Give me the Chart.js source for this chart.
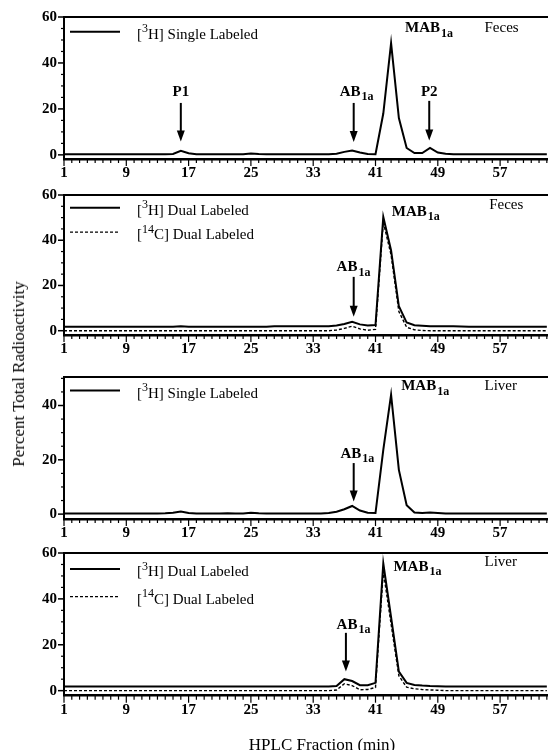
<!DOCTYPE html>
<html>
<head>
<meta charset="utf-8">
<script src="https://cdn.jsdelivr.net/npm/chart.js@4.4.1/dist/chart.umd.min.js"></script>
<style>
  html, body { margin: 0; padding: 0; background: #fff; }
  #wrap { position: relative; width: 548px; height: 750px; overflow: hidden; }
  #wrap canvas { position: absolute; left: 0; }
  .axis-title { position: absolute; font-family: "Liberation Serif", serif; font-size: 17px; color: #000; white-space: nowrap; }
  #ytitle { left: 19px; top: 374px; transform: translate(-50%, -50%) rotate(-90deg); }
  #xtitle { left: 322px; top: 745px; transform: translate(-50%, -50%); }
</style>
</head>
<body>
<div id="wrap">
  <canvas id="c1" width="548" height="180" style="top:0px"></canvas>
  <canvas id="c2" width="548" height="180" style="top:180px"></canvas>
  <canvas id="c3" width="548" height="180" style="top:360px"></canvas>
  <canvas id="c4" width="548" height="210" style="top:540px"></canvas>
  <div class="axis-title" id="ytitle">Percent Total Radioactivity</div>
  <div class="axis-title" id="xtitle">HPLC Fraction (min)</div>
</div>
<script>
// HPLC fractions (x)
const fractions = [
  1, 2, 3, 4, 5, 6, 7, 8, 9, 10, 11, 12, 13, 14, 15, 16, 17, 18, 19, 20,
  21, 22, 23, 24, 25, 26, 27, 28, 29, 30, 31, 32, 33, 34, 35, 36, 37, 38, 39, 40,
  41, 42, 43, 44, 45, 46, 47, 48, 49, 50, 51, 52, 53, 54, 55, 56, 57, 58, 59, 60,
  61, 62, 63
];
const xTickLabels = [1, 9, 17, 25, 33, 41, 49, 57];
const yTickStops = [0, 5, 10, 15, 20, 25, 30, 35, 40, 45, 50, 55, 60];
const yTickLabels = [0, 20, 40, 60];

// Feces, [3H] single labeled
const feces3HSingle = [
  0.3, 0.3, 0.3, 0.3, 0.3, 0.3, 0.3, 0.3, 0.3, 0.3,
  0.3, 0.3, 0.3, 0.3, 0.4, 1.8, 0.7, 0.3, 0.3, 0.3,
  0.3, 0.3, 0.3, 0.3, 0.6, 0.4, 0.3, 0.3, 0.3, 0.3,
  0.3, 0.3, 0.3, 0.3, 0.3, 0.5, 1.3, 1.9, 1.0, 0.4,
  0.3, 18, 48.6, 16, 3.0, 0.8, 0.8, 3.0, 1.0, 0.5,
  0.3, 0.3, 0.3, 0.3, 0.3, 0.3, 0.3, 0.3, 0.3, 0.3,
  0.3, 0.3, 0.3
];
// Feces, dual labeled
const feces3HDual = [
  1.8, 1.8, 1.8, 1.8, 1.8, 1.8, 1.8, 1.8, 1.8, 1.8,
  1.8, 1.8, 1.8, 1.8, 1.8, 2.0, 1.8, 1.8, 1.8, 1.8,
  1.8, 1.8, 1.8, 1.8, 1.8, 1.8, 1.8, 2.0, 2.0, 2.0,
  2.0, 2.0, 2.0, 2.0, 2.0, 2.3, 3.0, 3.9, 2.8, 2.3,
  2.5, 50.3, 35.5, 10.8, 3.6, 2.4, 2.2, 2.0, 2.0, 2.0,
  2.0, 1.9, 1.8, 1.8, 1.8, 1.8, 1.8, 1.8, 1.8, 1.8,
  1.8, 1.8, 1.8
];
const feces14CDual = [
  0, 0, 0, 0, 0, 0, 0, 0, 0, 0,
  0, 0, 0, 0, 0, 0, 0, 0, 0, 0,
  0, 0, 0, 0, 0, 0, 0, 0, 0, 0,
  0, 0, 0, 0, 0, 0.3, 1.0, 2.0, 0.8, 0.2,
  0.6, 48, 33.5, 8.5, 1.5, 0.4, 0.1, 0, 0, 0,
  0, 0, 0, 0, 0, 0, 0, 0, 0, 0,
  0, 0, 0
];
// Liver, [3H] single labeled
const liver3HSingle = [
  0.2, 0.2, 0.2, 0.2, 0.2, 0.2, 0.2, 0.2, 0.2, 0.2,
  0.2, 0.2, 0.2, 0.3, 0.5, 1.0, 0.4, 0.2, 0.2, 0.2,
  0.2, 0.3, 0.2, 0.2, 0.5, 0.3, 0.2, 0.2, 0.2, 0.2,
  0.2, 0.2, 0.2, 0.2, 0.4, 0.9, 1.8, 3.0, 1.3, 0.5,
  0.4, 23.7, 44, 16.3, 3.3, 0.6, 0.4, 0.6, 0.4, 0.2,
  0.2, 0.2, 0.2, 0.2, 0.2, 0.2, 0.2, 0.2, 0.2, 0.2,
  0.2, 0.2, 0.2
];
// Liver, dual labeled
const liver3HDual = [
  1.8, 1.8, 1.8, 1.8, 1.8, 1.8, 1.8, 1.8, 1.8, 1.8,
  1.8, 1.8, 1.8, 1.8, 1.8, 1.8, 1.8, 1.8, 1.8, 1.8,
  1.8, 1.8, 1.8, 1.8, 1.8, 1.8, 1.8, 1.8, 1.8, 1.8,
  1.8, 1.8, 1.8, 1.8, 1.8, 2.0, 5.0, 4.2, 2.4, 2.4,
  3.4, 55.5, 32, 8.3, 3.4, 2.5, 2.2, 2.0, 1.9, 1.8,
  1.8, 1.8, 1.8, 1.8, 1.8, 1.8, 1.8, 1.8, 1.8, 1.8,
  1.8, 1.8, 1.8
];
const liver14CDual = [
  0, 0, 0, 0, 0, 0, 0, 0, 0, 0,
  0, 0, 0, 0, 0, 0, 0, 0, 0, 0,
  0, 0, 0, 0, 0, 0, 0, 0, 0, 0,
  0, 0, 0, 0, 0, 0.3, 3.0, 2.2, 0.4, 0.5,
  1.4, 52, 29, 6.5, 1.5, 0.8, 0.5, 0.3, 0.2, 0,
  0, 0, 0, 0, 0, 0, 0, 0, 0, 0,
  0, 0, 0
];

const SERIF = '"Liberation Serif", "Times New Roman", serif';
const AB1A = [['AB', ''], ['1a', 'sub']];
const MAB1A = [['MAB', ''], ['1a', 'sub']];

// text run with super/subscripts; x = left edge (or centre), y = middle
function richText(ctx, parts, x, y, size, weight, align) {
  const fontOf = k => (weight || '') + ' ' + (k ? Math.round(size * 0.78) : size) + 'px ' + SERIF;
  let total = 0;
  parts.forEach(([t, k]) => { ctx.font = fontOf(k); total += ctx.measureText(t).width + (k === 'sub' ? 1 : 0); });
  let cx = align === 'center' ? x - total / 2 : x;
  ctx.textBaseline = 'middle';
  ctx.textAlign = 'left';
  parts.forEach(([t, k]) => {
    ctx.font = fontOf(k);
    let dy = 0;
    if (k === 'sup') dy = -size * 0.38;
    if (k === 'sub') { dy = size * 0.35; cx += 1; }
    ctx.fillText(t, cx, y + dy);
    cx += ctx.measureText(t).width;
  });
}

const panelMarks = {
  id: 'panelMarks',
  afterDraw(chart, args, opts) {
    const ctx = chart.ctx;
    const xs = chart.scales.x, ys = chart.scales.y;
    const area = chart.chartArea;
    ctx.save();
    ctx.strokeStyle = '#000';
    ctx.fillStyle = '#000';

    // top of the frame
    ctx.lineWidth = 2;
    ctx.beginPath();
    ctx.moveTo(area.left - 1, area.top);
    ctx.lineTo(chart.width, area.top);
    ctx.stroke();

    // x ticks hang below the axis
    ctx.lineWidth = 1.2;
    xs.ticks.forEach(t => {
      const px = xs.getPixelForValue(t.value);
      const len = xTickLabels.includes(t.value) ? 7 : 4;
      ctx.beginPath();
      ctx.moveTo(px, area.bottom);
      ctx.lineTo(px, area.bottom + len);
      ctx.stroke();
    });
    // y ticks stick out to the left
    ys.ticks.forEach(t => {
      const py = ys.getPixelForValue(t.value);
      const major = yTickLabels.includes(t.value);
      ctx.lineWidth = major ? 1.5 : 1.2;
      ctx.beginPath();
      ctx.moveTo(area.left, py);
      ctx.lineTo(area.left - (major ? 6 : 3), py);
      ctx.stroke();
    });

    // legend
    (opts.legend || []).forEach(item => {
      const py = ys.getPixelForValue(item.y);
      ctx.lineWidth = item.dashed ? 1.3 : 2;
      ctx.setLineDash(item.dashed ? [3, 2] : []);
      ctx.beginPath();
      ctx.moveTo(70, py);
      ctx.lineTo(120, py);
      ctx.stroke();
      ctx.setLineDash([]);
      richText(ctx, item.text, 137, py + 3, 15, '');
    });

    // peak names + arrows
    (opts.notes || []).forEach(n => {
      if (n.label) {
        richText(ctx, n.label, xs.getPixelForValue(n.lx), ys.getPixelForValue(n.ly), 15, 'bold', n.center ? 'center' : 'left');
      }
      if (n.ax !== undefined) {
        const px = xs.getPixelForValue(n.ax);
        const y1 = ys.getPixelForValue(n.y1), y2 = ys.getPixelForValue(n.y2);
        ctx.lineWidth = 2;
        ctx.beginPath();
        ctx.moveTo(px, y1);
        ctx.lineTo(px, y2 - 9);
        ctx.stroke();
        ctx.beginPath();
        ctx.moveTo(px - 4, y2 - 11);
        ctx.lineTo(px + 4, y2 - 11);
        ctx.lineTo(px, y2);
        ctx.closePath();
        ctx.fill();
      }
    });

    if (opts.region) {
      ctx.font = '15px ' + SERIF;
      ctx.textBaseline = 'middle';
      ctx.textAlign = 'left';
      ctx.fillText(opts.region.text, xs.getPixelForValue(opts.region.x), ys.getPixelForValue(opts.region.y));
    }
    ctx.restore();
  }
};

function toPoints(values) {
  return values.map((v, i) => ({ x: fractions[i], y: v }));
}

function makePanel(canvasId, p) {
  const datasets = p.series.map(s => ({
    data: toPoints(s.values),
    borderColor: '#000',
    borderWidth: s.dashed ? 1.4 : 2,
    borderDash: s.dashed ? [3, 2] : [],
    pointRadius: 0,
    tension: 0,
    fill: false
  }));
  return new Chart(document.getElementById(canvasId), {
    type: 'line',
    data: { datasets },
    plugins: [panelMarks],
    options: {
      responsive: false,
      animation: false,
      devicePixelRatio: 1,
      layout: { autoPadding: false, padding: { top: p.padTop, left: 0, right: 0, bottom: 0 } },
      plugins: {
        legend: { display: false },
        tooltip: { enabled: false },
        panelMarks: { legend: p.legend, notes: p.notes, region: p.region }
      },
      scales: {
        x: {
          type: 'linear',
          min: 1,
          max: 63.15,
          afterFit: s => { s.height = p.xHeight; s.paddingLeft = 0; s.paddingRight = 0; },
          afterBuildTicks: s => { s.ticks = fractions.map(v => ({ value: v })); },
          ticks: {
            autoSkip: false,
            maxRotation: 0,
            padding: 5,
            color: '#000',
            font: { family: SERIF, size: 15, weight: 'bold' },
            callback: v => xTickLabels.includes(v) ? String(v) : ''
          },
          grid: { drawOnChartArea: false, drawTicks: false },
          border: { color: '#000', width: 2.5 }
        },
        y: {
          min: p.yMin,
          max: p.yMax,
          afterFit: s => { s.width = 64; s.paddingTop = 0; s.paddingBottom = 0; },
          afterBuildTicks: s => { s.ticks = yTickStops.filter(v => v <= p.yMax).map(v => ({ value: v })); },
          ticks: {
            autoSkip: false,
            padding: 7,
            color: '#000',
            font: { family: SERIF, size: 15, weight: 'bold' },
            callback: v => yTickLabels.includes(v) ? String(v) : ''
          },
          grid: { drawOnChartArea: false, drawTicks: false },
          border: { color: '#000', width: 2 }
        }
      }
    }
  });
}

const H3_SINGLE = [['[', ''], ['3', 'sup'], ['H] Single Labeled', '']];
const H3_DUAL = [['[', ''], ['3', 'sup'], ['H] Dual Labeled', '']];
const C14_DUAL = [['[', ''], ['14', 'sup'], ['C] Dual Labeled', '']];

makePanel('c1', {
  padTop: 17, xHeight: 21, yMin: -1.8, yMax: 60,
  series: [{ values: feces3HSingle }],
  legend: [{ y: 53.6, text: H3_SINGLE }],
  notes: [
    { label: [['P1', '']], lx: 16, ly: 27.5, center: true, ax: 16, y1: 22.6, y2: 5.8 },
    { label: AB1A, lx: 36.4, ly: 27.5, ax: 38.2, y1: 22.6, y2: 5.6 },
    { label: [['P2', '']], lx: 47.9, ly: 27.5, center: true, ax: 47.9, y1: 23.5, y2: 6.3 },
    { label: MAB1A, lx: 44.8, ly: 55 }
  ],
  region: { text: 'Feces', x: 55.0, y: 55.4 }
});

makePanel('c2', {
  padTop: 15, xHeight: 25, yMin: -1.9, yMax: 60,
  series: [{ values: feces3HDual }, { values: feces14CDual, dashed: true }],
  legend: [{ y: 54.4, text: H3_DUAL }, { y: 43.6, dashed: true, text: C14_DUAL }],
  notes: [
    { label: AB1A, lx: 36.0, ly: 28, ax: 38.2, y1: 23.8, y2: 6.2 },
    { label: MAB1A, lx: 43.1, ly: 52.6 }
  ],
  region: { text: 'Feces', x: 55.6, y: 55.5 }
});

makePanel('c3', {
  padTop: 17, xHeight: 21, yMin: -1.8, yMax: 50.5,
  series: [{ values: liver3HSingle }],
  legend: [{ y: 45.5, text: H3_SINGLE }],
  notes: [
    { label: AB1A, lx: 36.5, ly: 22.2, ax: 38.2, y1: 18.8, y2: 4.6 },
    { label: MAB1A, lx: 44.3, ly: 47 }
  ],
  region: { text: 'Liver', x: 55.0, y: 47.3 }
});

makePanel('c4', {
  padTop: 13, xHeight: 54.3, yMin: -2.2, yMax: 60,
  series: [{ values: liver3HDual }, { values: liver14CDual, dashed: true }],
  legend: [{ y: 53, text: H3_DUAL }, { y: 41, dashed: true, text: C14_DUAL }],
  notes: [
    { label: AB1A, lx: 36.0, ly: 28.7, ax: 37.2, y1: 25.2, y2: 8.3 },
    { label: MAB1A, lx: 43.3, ly: 54 }
  ],
  region: { text: 'Liver', x: 55.0, y: 56 }
});
</script>
</body>
</html>
